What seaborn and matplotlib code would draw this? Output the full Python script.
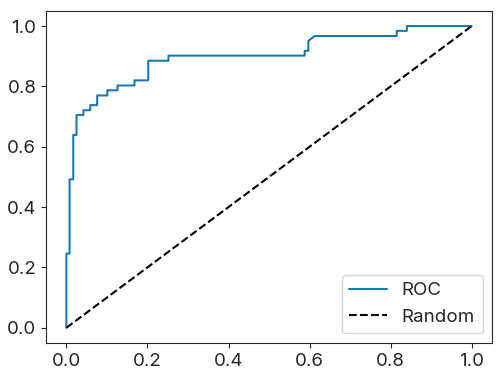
# ROC curve vs random classifier
import numpy as np
import pandas as pd
import seaborn as sns
import matplotlib
matplotlib.use('Agg')
import matplotlib.pyplot as plt

# corner points of the ROC curve (false positive rate / true positive rate)
fpr = [0.0, 0.0, 0.008, 0.008, 0.017, 0.017, 0.025, 0.025, 0.042, 0.042,
       0.059, 0.059, 0.076, 0.076, 0.101, 0.101, 0.126, 0.126, 0.168, 0.168,
       0.202, 0.202, 0.252, 0.252, 0.588, 0.588, 0.597, 0.597, 0.613, 0.613,
       0.815, 0.815, 0.840, 0.840, 1.0]
tpr = [0.0, 0.246, 0.246, 0.492, 0.492, 0.639, 0.639, 0.705, 0.705, 0.721,
       0.721, 0.738, 0.738, 0.770, 0.770, 0.787, 0.787, 0.803, 0.803, 0.820,
       0.820, 0.885, 0.885, 0.902, 0.902, 0.918, 0.918, 0.951, 0.967, 0.967,
       0.967, 0.984, 0.984, 1.0, 1.0]

random_x = [0.0, 1.0]
random_y = [0.0, 1.0]

sns.set_style("ticks")
plt.rcParams['font.family'] = ['Inter', 'DejaVu Sans']

fig = plt.figure(figsize=(5.01, 3.78), dpi=100)
ax = fig.add_axes([0.092, 0.093, 0.890, 0.878])

roc_df = pd.DataFrame({'fpr': fpr, 'tpr': tpr})
ax.plot(roc_df['fpr'], roc_df['tpr'], color='#1f77b4', lw=1.5, label='ROC')
sns.lineplot(x=random_x, y=random_y, ax=ax, color='black', linestyle='--',
             lw=1.5, label='Random')

ax.tick_params(labelsize=13.5)
ax.legend(loc='lower right', fontsize=13.5)

fig.savefig('out.png', dpi=100)
